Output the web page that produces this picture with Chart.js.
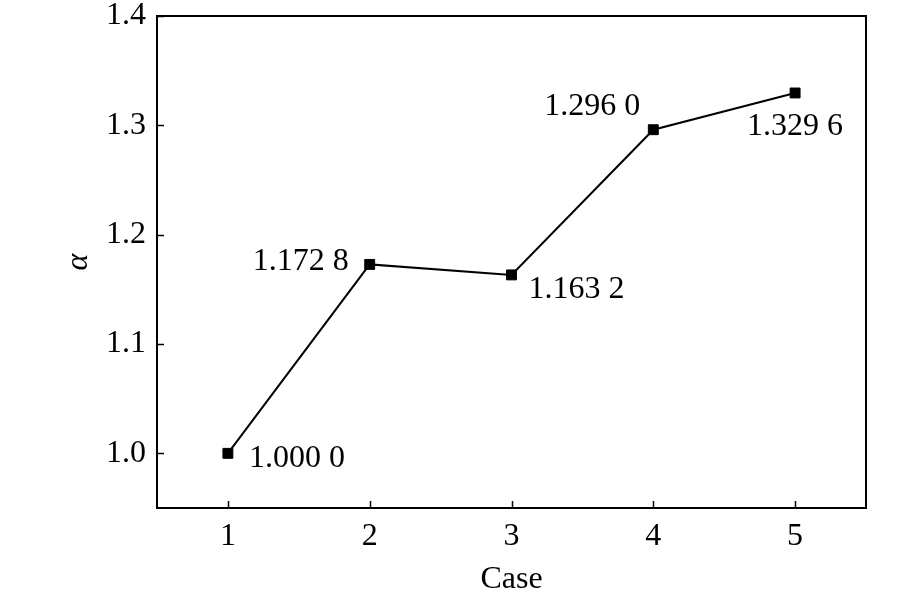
<!DOCTYPE html>
<html>
<head>
<meta charset="utf-8">
<script src="https://cdn.jsdelivr.net/npm/chart.js@4.4.1/dist/chart.umd.min.js"></script>
<style>
  html, body { margin: 0; padding: 0; background: #fff; }
  #wrap { width: 921px; height: 600px; }
</style>
</head>
<body>
<div id="wrap"><canvas id="caseChart" width="921" height="600"></canvas></div>
<script>
// data
const cases = [1, 2, 3, 4, 5];
const alphaValues = [1.0000, 1.1728, 1.1632, 1.2960, 1.3296];
const yTicks = [1.0, 1.1, 1.2, 1.3, 1.4];

// where each value label sits relative to its marker (dx, dy, align)
const labelPlacement = [
  { dx: 21, dy: 5, align: 'left' },
  { dx: -21, dy: -3, align: 'right' },
  { dx: 17, dy: 15, align: 'left' },
  { dx: -13, dy: -23, align: 'right' },
  { dx: 0, dy: 34, align: 'center' }
];

const serif = "'Liberation Serif', 'Times New Roman', serif";

function formatValue(v) {
  // 1.1728 -> "1.172 8"
  const s = v.toFixed(4);
  return s.slice(0, 5) + ' ' + s.slice(5);
}

// frame on top/right plus inward tick marks
const framePlugin = {
  id: 'framePlugin',
  afterDraw(chart) {
    const ctx = chart.ctx;
    const area = chart.chartArea;
    const xs = chart.scales.x;
    const ys = chart.scales.y;
    ctx.save();
    ctx.strokeStyle = '#000';
    ctx.lineWidth = 2;
    ctx.beginPath();
    ctx.moveTo(area.left - 1, area.top);
    ctx.lineTo(area.right, area.top);
    ctx.lineTo(area.right, area.bottom + 1);
    ctx.stroke();

    ctx.lineWidth = 1.5;
    ctx.beginPath();
    xs.ticks.forEach(t => {
      const px = Math.round(xs.getPixelForValue(t.value)) + 0.5;
      ctx.moveTo(px, area.bottom);
      ctx.lineTo(px, area.bottom - 7);
    });
    ys.ticks.forEach(t => {
      const py = Math.round(ys.getPixelForValue(t.value)) + 0.5;
      ctx.moveTo(area.left, py);
      ctx.lineTo(area.left + 7, py);
    });
    ctx.stroke();
    ctx.restore();
  }
};

// value labels next to each marker
const valueLabels = {
  id: 'valueLabels',
  afterDatasetsDraw(chart) {
    const ctx = chart.ctx;
    const meta = chart.getDatasetMeta(0);
    ctx.save();
    ctx.font = '32px ' + serif;
    ctx.fillStyle = '#000';
    ctx.textBaseline = 'middle';
    meta.data.forEach((pt, i) => {
      const p = labelPlacement[i];
      ctx.textAlign = p.align;
      ctx.fillText(formatValue(alphaValues[i]), pt.x + p.dx, pt.y + p.dy);
    });
    ctx.restore();
  }
};

function initializeChart() {
  const ctx = document.getElementById('caseChart').getContext('2d');
  new Chart(ctx, {
    type: 'line',
    data: {
      datasets: [{
        data: cases.map((c, i) => ({ x: c, y: alphaValues[i] })),
        borderColor: '#000',
        borderWidth: 2,
        backgroundColor: '#000',
        pointStyle: 'rect',
        pointRadius: 7,
        pointBorderWidth: 1,
        pointBorderColor: '#000',
        pointBackgroundColor: '#000',
        tension: 0,
        fill: false
      }]
    },
    options: {
      responsive: false,
      devicePixelRatio: 1,
      animation: false,
      layout: { padding: { top: 16, right: 55, bottom: 0, left: 0 } },
      plugins: {
        legend: { display: false },
        tooltip: { enabled: false }
      },
      scales: {
        x: {
          type: 'linear',
          min: 0.5,
          max: 5.5,
          afterFit(scale) {
            scale.height = 92;
            scale.paddingLeft = 0;
            scale.paddingRight = 0;
          },
          afterBuildTicks(scale) { scale.ticks = cases.map(v => ({ value: v })); },
          grid: { display: false },
          border: { display: true, color: '#000', width: 2 },
          ticks: {
            color: '#000',
            padding: 1,
            maxRotation: 0,
            font: { family: serif, size: 32 },
            callback: v => String(v)
          },
          title: {
            display: true,
            text: 'Case',
            color: '#000',
            font: { family: serif, size: 32 },
            padding: { top: 0, bottom: 1 }
          }
        },
        y: {
          type: 'linear',
          min: 0.95,
          max: 1.4,
          afterFit(scale) {
            scale.width = 157;
            scale.paddingTop = 0;
            scale.paddingBottom = 0;
          },
          afterBuildTicks(scale) { scale.ticks = yTicks.map(v => ({ value: v })); },
          grid: { display: false },
          border: { display: true, color: '#000', width: 2 },
          ticks: {
            color: '#000',
            padding: 3,
            font: { family: serif, size: 32 },
            callback: v => Number(v).toFixed(1)
          },
          title: {
            display: true,
            text: 'α',
            color: '#000',
            font: { family: serif, size: 32, style: 'italic' },
            padding: { top: 59, bottom: 0 }
          }
        }
      }
    },
    plugins: [framePlugin, valueLabels]
  });
}

document.addEventListener('DOMContentLoaded', () => {
  initializeChart();
});
</script>
</body>
</html>
